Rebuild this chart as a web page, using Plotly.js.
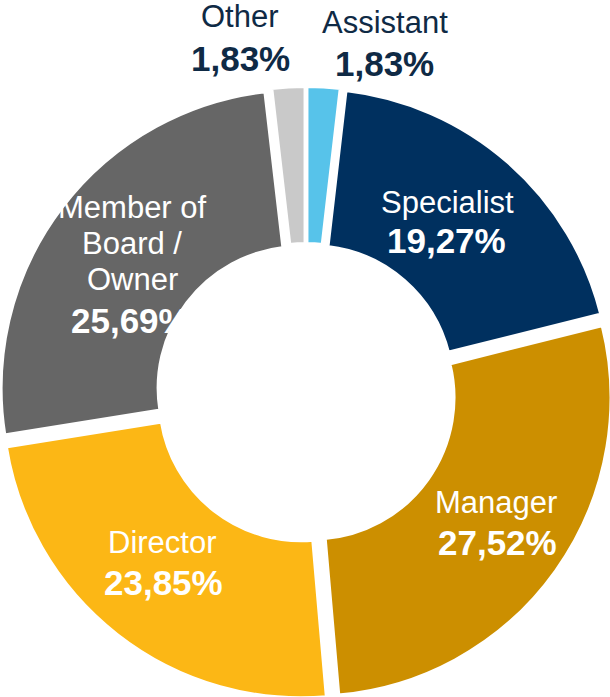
<!DOCTYPE html>
<html>
<head>
<meta charset="utf-8">
<script src="https://cdn.plot.ly/plotly-3.0.1.min.js"></script>
<style>
  html, body { margin: 0; padding: 0; background: #ffffff; overflow: hidden; width: 610px; height: 697px; }
  #chart { width: 614px; height: 700px; margin-left: -1px; }
</style>
</head>
<body>
<div id="chart"></div>
<script>
// ---- data ----
const categories = ["Assistant", "Specialist", "Manager", "Director", "Member of Board / Owner", "Other"];
const values = [1.83, 19.27, 27.52, 23.85, 25.69, 1.83];
const displayNames = ["Assistant", "Specialist", "Manager", "Director", "Member of<br>Board /<br>Owner", "Other"];
const percentLabels = ["1,83%", "19,27%", "27,52%", "23,85%", "25,69%", "1,83%"];

// ---- styles ----
const colors = ["#57C3EA", "#00305F", "#CC8F00", "#FCB715", "#666666", "#C9C9C9"];
const textColors = ["#0F2A45", "#FFFFFF", "#FFFFFF", "#FFFFFF", "#FFFFFF", "#0F2A45"];
// label anchor: center x (px), first-name-line baseline (px), percent baseline (px)
const labelPos = [
  {x: 385, name: 33,  pct: 76,  px: 385},
  {x: 447, name: 213, pct: 253, px: 446},
  {x: 496, name: 513, pct: 555, px: 497},
  {x: 162, name: 553, pct: 595, px: 163},
  {x: 132, name: 218, pct: 333, px: 130},
  {x: 240, name: 27,  pct: 71,  px: 240}
];
const W = 614, H = 700, OFFX = -1;
const nameSize = 31, pctSize = 35, lineGap = 36;
const FONT = "Liberation Sans, Arial, Helvetica, sans-serif";

const toPX = px => (px - OFFX) / W;
const toPY = py => 1 - py / H;

const annotations = [];
displayNames.forEach((nm, i) => {
  const p = labelPos[i];
  nm.split("<br>").forEach((line, k) => {
    annotations.push({
      xref: "paper", yref: "paper",
      x: toPX(p.x), y: toPY(p.name + k * lineGap - 0.35 * nameSize),
      xanchor: "center", yanchor: "middle",
      text: line, showarrow: false,
      font: {family: FONT, size: nameSize, color: textColors[i]}
    });
  });
  annotations.push({
    xref: "paper", yref: "paper",
    x: toPX(p.px), y: toPY(p.pct - 0.35 * pctSize),
    xanchor: "center", yanchor: "middle",
    text: "<b>" + percentLabels[i] + "</b>", showarrow: false,
    font: {family: FONT, size: pctSize, color: textColors[i]}
  });
});

const cy = 393; // pie center from top (px)
const trace = {
  type: "pie",
  labels: categories,
  values: values,
  sort: false,
  direction: "clockwise",
  rotation: 0,
  hole: 0.4716,
  pull: 0.0268,
  marker: {colors: colors, line: {color: "#FFFFFF", width: 4}},
  textinfo: "none",
  hoverinfo: "label+percent",
  showlegend: false,
  domain: {x: [0, 1], y: [0, 2 * (H - cy) / H]}
};

const layout = {
  width: W, height: H,
  margin: {l: 0, r: 0, t: 0, b: 0},
  paper_bgcolor: "#FFFFFF",
  plot_bgcolor: "#FFFFFF",
  showlegend: false,
  annotations: annotations,
  font: {family: FONT}
};

Plotly.newPlot("chart", [trace], layout, {displayModeBar: false, staticPlot: true});
</script>
</body>
</html>
